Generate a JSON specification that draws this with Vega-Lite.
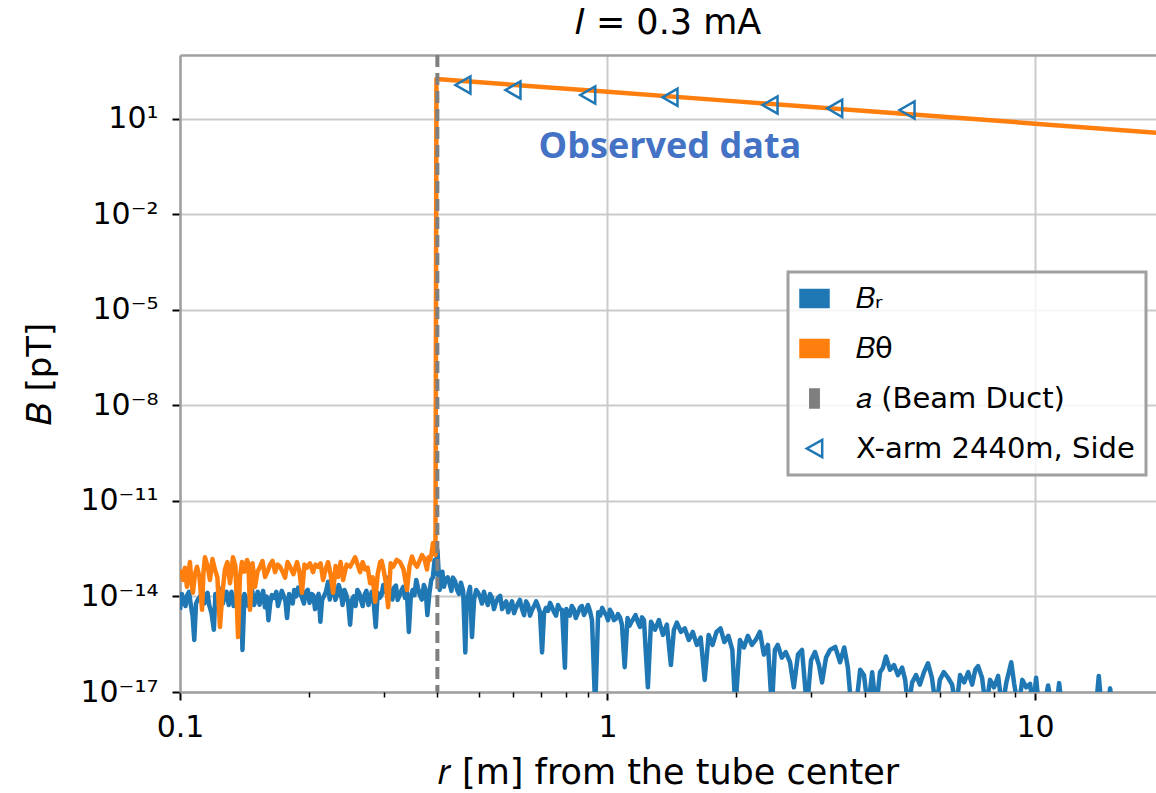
{
  "$schema": "https://vega.github.io/schema/vega-lite/v6.json",
  "width": 976,
  "height": 637,
  "autosize": {"type": "none"},
  "padding": {"left": 180, "top": 55, "right": 0, "bottom": 101},
  "background": "white",
  "config": {
    "view": {"stroke": null},
    "font": "DejaVu Sans",
    "axis": {"labelFont": "DejaVu Sans", "titleFont": "DejaVu Sans", "labelColor": "#000", "titleColor": "#000", "tickColor": "#000", "domainColor": "#a0a0a0", "gridColor": "#cbcbcb", "titleFontWeight": "normal", "labelFontSize": 30, "titleFontSize": 35}
  },
  "title": {"text": "𝐼 = 0.3 mA", "font": "DejaVu Sans", "fontSize": 35, "fontWeight": "normal", "color": "#000", "offset": 12, "anchor": "middle"},
  "datasets": {
    "br": [
      {"r": 0.100, "B": 3.8e-15}, {"r": 0.102, "B": 7.8e-15}, {"r": 0.104, "B": 1.1e-14}, {"r": 0.106, "B": 5.4e-15}, {"r": 0.108, "B": 4.3e-16}, {"r": 0.110, "B": 7.8e-15}, {"r": 0.113, "B": 1.6e-14}, {"r": 0.115, "B": 9e-15}, {"r": 0.117, "B": 5.4e-15}, {"r": 0.120, "B": 9e-16}, {"r": 0.122, "B": 7.8e-15}, {"r": 0.125, "B": 1.6e-14}, {"r": 0.127, "B": 1e-14}, {"r": 0.130, "B": 5.4e-15}, {"r": 0.132, "B": 1.4e-14}, {"r": 0.135, "B": 7.8e-15}, {"r": 0.138, "B": 3.2e-15}, {"r": 0.140, "B": 2.1e-16}, {"r": 0.143, "B": 7.8e-15}, {"r": 0.146, "B": 1.1e-14}, {"r": 0.149, "B": 5.4e-15}, {"r": 0.152, "B": 1.4e-14}, {"r": 0.155, "B": 9e-15}, {"r": 0.158, "B": 4.6e-15}, {"r": 0.161, "B": 1.8e-15}, {"r": 0.164, "B": 1.1e-14}, {"r": 0.168, "B": 1.4e-14}, {"r": 0.171, "B": 7.8e-15}, {"r": 0.175, "B": 1e-14}, {"r": 0.178, "B": 2.1e-15}, {"r": 0.182, "B": 7.8e-15}, {"r": 0.185, "B": 1.6e-14}, {"r": 0.189, "B": 1.9e-14}, {"r": 0.193, "B": 9e-15}, {"r": 0.197, "B": 1.4e-14}, {"r": 0.201, "B": 6.3e-15}, {"r": 0.205, "B": 1.1e-14}, {"r": 0.209, "B": 7.8e-15}, {"r": 0.213, "B": 1.6e-15}, {"r": 0.217, "B": 1e-14}, {"r": 0.222, "B": 2.9e-14}, {"r": 0.226, "B": 1.6e-14}, {"r": 0.231, "B": 7.8e-15}, {"r": 0.235, "B": 2.3e-14}, {"r": 0.240, "B": 5.4e-15}, {"r": 0.245, "B": 1.1e-14}, {"r": 0.250, "B": 1.3e-15}, {"r": 0.255, "B": 1e-14}, {"r": 0.260, "B": 1.6e-14}, {"r": 0.265, "B": 7.8e-15}, {"r": 0.270, "B": 1.1e-14}, {"r": 0.276, "B": 5.4e-15}, {"r": 0.281, "B": 1.4e-14}, {"r": 0.287, "B": 1.1e-15}, {"r": 0.293, "B": 9e-15}, {"r": 0.299, "B": 2.3e-14}, {"r": 0.305, "B": 3.9e-14}, {"r": 0.311, "B": 1.4e-14}, {"r": 0.317, "B": 1.9e-14}, {"r": 0.323, "B": 7.8e-15}, {"r": 0.330, "B": 1.6e-14}, {"r": 0.336, "B": 9e-15}, {"r": 0.343, "B": 7.7e-16}, {"r": 0.350, "B": 1.6e-14}, {"r": 0.357, "B": 3.3e-14}, {"r": 0.364, "B": 1.1e-14}, {"r": 0.372, "B": 2.3e-14}, {"r": 0.379, "B": 2.6e-15}, {"r": 0.387, "B": 3.3e-14}, {"r": 0.394, "B": 1.4e-13}, {"r": 0.400, "B": 2.9e-13},
      {"r": 0.101, "B": 1.2e-14}, {"r": 0.103, "B": 5e-15}, {"r": 0.105, "B": 1.4e-14}, {"r": 0.107, "B": 2.5e-15}, {"r": 0.109, "B": 6e-15}, {"r": 0.1115, "B": 1e-14}, {"r": 0.114, "B": 6e-15}, {"r": 0.116, "B": 1.3e-14}, {"r": 0.1185, "B": 3e-15}, {"r": 0.121, "B": 1.2e-14}, {"r": 0.1235, "B": 1.8e-14}, {"r": 0.126, "B": 6e-15}, {"r": 0.1285, "B": 1.4e-14}, {"r": 0.131, "B": 9e-15}, {"r": 0.1335, "B": 5e-15}, {"r": 0.1365, "B": 1.5e-14}, {"r": 0.139, "B": 1e-14}, {"r": 0.1415, "B": 1.2e-14}, {"r": 0.1445, "B": 5e-15}, {"r": 0.1475, "B": 1.6e-14}, {"r": 0.1505, "B": 8e-15}, {"r": 0.1535, "B": 5.5e-15}, {"r": 0.1565, "B": 1.5e-14}, {"r": 0.1595, "B": 1e-14}, {"r": 0.1625, "B": 6e-15}, {"r": 0.166, "B": 9e-15}, {"r": 0.1695, "B": 5e-15}, {"r": 0.173, "B": 1.5e-14}, {"r": 0.1765, "B": 7e-15}, {"r": 0.180, "B": 1.2e-14}, {"r": 0.1835, "B": 6e-15}, {"r": 0.187, "B": 1e-14}, {"r": 0.191, "B": 1.3e-14}, {"r": 0.195, "B": 6e-15}, {"r": 0.199, "B": 1.6e-14}, {"r": 0.203, "B": 1.2e-14}, {"r": 0.207, "B": 4e-15}, {"r": 0.211, "B": 1.2e-14}, {"r": 0.215, "B": 8e-15}, {"r": 0.2195, "B": 1.4e-14}, {"r": 0.224, "B": 8e-15}, {"r": 0.2285, "B": 2e-14}, {"r": 0.233, "B": 1.1e-14}, {"r": 0.2375, "B": 1.5e-14}, {"r": 0.2425, "B": 1.6e-14}, {"r": 0.2475, "B": 6e-15}, {"r": 0.2525, "B": 8e-15}, {"r": 0.2575, "B": 5e-15}, {"r": 0.2625, "B": 1.3e-14}, {"r": 0.2675, "B": 5e-15}, {"r": 0.273, "B": 1.5e-14}, {"r": 0.2785, "B": 9e-15}, {"r": 0.284, "B": 6e-15}, {"r": 0.290, "B": 1.3e-14}, {"r": 0.296, "B": 1.1e-14}, {"r": 0.302, "B": 1.4e-14}, {"r": 0.308, "B": 2e-14}, {"r": 0.314, "B": 8e-15}, {"r": 0.320, "B": 2.2e-14}, {"r": 0.3265, "B": 1.1e-14}, {"r": 0.333, "B": 2e-14}, {"r": 0.3395, "B": 1.4e-14}, {"r": 0.3465, "B": 9e-15}, {"r": 0.3535, "B": 1.1e-14}, {"r": 0.3605, "B": 1.8e-14}, {"r": 0.368, "B": 8e-15}, {"r": 0.3755, "B": 1.6e-14}, {"r": 0.383, "B": 1.2e-14}, {"r": 0.3905, "B": 4e-14}, {"r": 0.397, "B": 5e-14},
      {"r": 0.405, "B": 1.6e-14}, {"r": 0.411, "B": 6e-14}, {"r": 0.418, "B": 3.3e-14}, {"r": 0.428, "B": 2.3e-14}, {"r": 0.435, "B": 3.9e-14}, {"r": 0.445, "B": 1.6e-14}, {"r": 0.454, "B": 2.7e-14}, {"r": 0.465, "B": 1.75e-16}, {"r": 0.472, "B": 1.1e-14}, {"r": 0.482, "B": 5.3e-16}, {"r": 0.493, "B": 1.6e-14}, {"r": 0.503, "B": 1e-14}, {"r": 0.514, "B": 1.4e-14}, {"r": 0.525, "B": 5.4e-15}, {"r": 0.537, "B": 9e-15}, {"r": 0.548, "B": 6.3e-15}, {"r": 0.561, "B": 1.05e-14}, {"r": 0.573, "B": 5.4e-15}, {"r": 0.586, "B": 3.2e-15}, {"r": 0.598, "B": 7e-15}, {"r": 0.611, "B": 4.4e-15}, {"r": 0.624, "B": 7.8e-15}, {"r": 0.638, "B": 2.6e-15}, {"r": 0.652, "B": 5.4e-15}, {"r": 0.666, "B": 3.8e-15}, {"r": 0.681, "B": 7e-15}, {"r": 0.695, "B": 3.2e-15}, {"r": 0.703, "B": 1.75e-16}, {"r": 0.718, "B": 4.4e-15}, {"r": 0.734, "B": 6.3e-15}, {"r": 0.750, "B": 3.2e-15}, {"r": 0.766, "B": 5.4e-15}, {"r": 0.783, "B": 3.8e-15}, {"r": 0.795, "B": 5.8e-17}, {"r": 0.808, "B": 3.2e-15}, {"r": 0.825, "B": 5e-15}, {"r": 0.843, "B": 2.1e-15}, {"r": 0.862, "B": 4.4e-15}, {"r": 0.881, "B": 2.6e-15}, {"r": 0.900, "B": 5.4e-15}, {"r": 0.920, "B": 1.8e-15}, {"r": 0.936, "B": 3e-18}, {"r": 0.951, "B": 3.2e-15}, {"r": 0.972, "B": 4.4e-15}, {"r": 0.993, "B": 2.6e-15}, {"r": 1.013, "B": 3.8e-15}, {"r": 1.035, "B": 1.8e-15}, {"r": 1.058, "B": 2.8e-15}, {"r": 1.081, "B": 1.3e-15}, {"r": 1.097, "B": 6e-17}, {"r": 1.114, "B": 2.1e-15}, {"r": 1.138, "B": 1.6e-15}, {"r": 1.163, "B": 2.6e-15}, {"r": 1.191, "B": 1.1e-15}, {"r": 1.217, "B": 1.8e-15}, {"r": 1.243, "B": 1.4e-17}, {"r": 1.264, "B": 1.6e-15}, {"r": 1.292, "B": 9e-16}, {"r": 1.319, "B": 1.8e-15}, {"r": 1.348, "B": 6.2e-16}, {"r": 1.377, "B": 1.3e-15}, {"r": 1.407, "B": 7e-17}, {"r": 1.430, "B": 9e-16}, {"r": 1.453, "B": 1.5e-15}, {"r": 1.485, "B": 7.7e-16}, {"r": 1.516, "B": 1e-15}, {"r": 1.550, "B": 4.3e-16}, {"r": 1.583, "B": 7.7e-16}, {"r": 1.618, "B": 3e-16}, {"r": 1.652, "B": 5.1e-16}, {"r": 1.688, "B": 2.4e-17}, {"r": 1.724, "B": 6.2e-16}, {"r": 1.761, "B": 3e-16}, {"r": 1.799, "B": 7.7e-16}, {"r": 1.838, "B": 1e-15}, {"r": 1.877, "B": 3.7e-16}, {"r": 1.918, "B": 5.8e-16}, {"r": 1.959, "B": 2.1e-16}, {"r": 1.991, "B": 3e-18}, {"r": 2.041, "B": 4.3e-16}, {"r": 2.085, "B": 2.5e-16}, {"r": 2.130, "B": 5.8e-16}, {"r": 2.176, "B": 3e-16}, {"r": 2.222, "B": 4.3e-16}, {"r": 2.273, "B": 7.7e-16}, {"r": 2.322, "B": 1.5e-16}, {"r": 2.373, "B": 3e-16}, {"r": 2.424, "B": 3e-18}, {"r": 2.463, "B": 2.1e-16}, {"r": 2.502, "B": 3e-16}, {"r": 2.557, "B": 1.2e-16}, {"r": 2.612, "B": 1.8e-16}, {"r": 2.673, "B": 8.6e-17}, {"r": 2.728, "B": 1.4e-17}, {"r": 2.790, "B": 1.5e-16}, {"r": 2.851, "B": 2.1e-16}, {"r": 2.929, "B": 3e-18}, {"r": 2.993, "B": 1e-16}, {"r": 3.058, "B": 1.8e-16}, {"r": 3.124, "B": 7e-17}, {"r": 3.176, "B": 2e-17}, {"r": 3.245, "B": 1.2e-16}, {"r": 3.316, "B": 2.1e-16}, {"r": 3.41, "B": 2.6e-16}, {"r": 3.50, "B": 8.6e-17}, {"r": 3.58, "B": 2.5e-16}, {"r": 3.65, "B": 5.8e-17}, {"r": 3.72, "B": 3e-18}, {"r": 3.81, "B": 3e-18}, {"r": 3.90, "B": 5e-17}, {"r": 3.98, "B": 3.4e-17}, {"r": 4.07, "B": 3e-18}, {"r": 4.16, "B": 4.2e-17}, {"r": 4.25, "B": 3e-18}, {"r": 4.34, "B": 4.2e-17}, {"r": 4.41, "B": 5.8e-17}, {"r": 4.48, "B": 1.3e-16}, {"r": 4.58, "B": 5e-17}, {"r": 4.68, "B": 7e-17}, {"r": 4.78, "B": 3.4e-17}, {"r": 4.89, "B": 5.8e-17}, {"r": 4.97, "B": 2.4e-17}, {"r": 5.05, "B": 3e-18}, {"r": 5.16, "B": 2e-17}, {"r": 5.27, "B": 3.4e-17}, {"r": 5.38, "B": 1.7e-17}, {"r": 5.50, "B": 4.2e-17}, {"r": 5.62, "B": 8e-17}, {"r": 5.74, "B": 2.8e-17}, {"r": 5.87, "B": 3e-18}, {"r": 5.99, "B": 2.4e-17}, {"r": 6.12, "B": 4.2e-17}, {"r": 6.26, "B": 2.8e-17}, {"r": 6.40, "B": 1.7e-17}, {"r": 6.54, "B": 3e-18}, {"r": 6.68, "B": 3.4e-17}, {"r": 6.83, "B": 2e-17}, {"r": 6.98, "B": 4.2e-17}, {"r": 7.13, "B": 1.7e-17}, {"r": 7.25, "B": 5e-17}, {"r": 7.36, "B": 6.5e-17}, {"r": 7.52, "B": 2.8e-17}, {"r": 7.68, "B": 3e-18}, {"r": 7.85, "B": 2.4e-17}, {"r": 8.02, "B": 1.4e-17}, {"r": 8.20, "B": 3.2e-17}, {"r": 8.38, "B": 3e-18}, {"r": 8.57, "B": 2e-17}, {"r": 8.80, "B": 8.6e-17}, {"r": 8.94, "B": 1.8e-17}, {"r": 9.14, "B": 3e-18}, {"r": 9.34, "B": 2.4e-17}, {"r": 9.54, "B": 1.4e-17}, {"r": 9.74, "B": 1.8e-17}, {"r": 9.90, "B": 3e-18}, {"r": 10.06, "B": 2.8e-17}, {"r": 10.22, "B": 3e-18}, {"r": 10.49, "B": 3e-18}, {"r": 10.73, "B": 1.6e-17}, {"r": 10.97, "B": 3e-18}, {"r": 11.21, "B": 3e-18}, {"r": 11.39, "B": 1.9e-17}, {"r": 11.57, "B": 3e-18}, {"r": 12.08, "B": 3e-18}, {"r": 13.46, "B": 3e-18}, {"r": 13.88, "B": 3e-18}, {"r": 14.10, "B": 3.2e-17}, {"r": 14.32, "B": 3e-18}, {"r": 14.78, "B": 3e-18}, {"r": 14.99, "B": 1.3e-17}, {"r": 15.15, "B": 3e-18},
      {"r": 0.408, "B": 3e-14}, {"r": 0.4145, "B": 2e-14}, {"r": 0.423, "B": 4e-14}, {"r": 0.4315, "B": 1.5e-14}, {"r": 0.440, "B": 3e-14}, {"r": 0.4495, "B": 1.2e-14}, {"r": 0.4595, "B": 1.5e-14}, {"r": 0.4685, "B": 8e-15}, {"r": 0.477, "B": 2e-14}, {"r": 0.4875, "B": 8e-15}, {"r": 0.498, "B": 1.3e-14}, {"r": 0.5085, "B": 6e-15}, {"r": 0.5195, "B": 8e-15}, {"r": 0.531, "B": 1.2e-14}, {"r": 0.5425, "B": 4e-15}, {"r": 0.5545, "B": 9e-15}, {"r": 0.567, "B": 4e-15}, {"r": 0.5795, "B": 7e-15}, {"r": 0.592, "B": 5e-15}, {"r": 0.6045, "B": 3e-15}, {"r": 0.6175, "B": 6e-15}, {"r": 0.631, "B": 4e-15}, {"r": 0.645, "B": 7e-15}, {"r": 0.659, "B": 2.5e-15}, {"r": 0.6735, "B": 5e-15}, {"r": 0.688, "B": 5e-15}, {"r": 0.7105, "B": 3e-15}, {"r": 0.726, "B": 3.5e-15}, {"r": 0.742, "B": 4.5e-15}, {"r": 0.758, "B": 2.5e-15}, {"r": 0.7745, "B": 4e-15}, {"r": 0.8015, "B": 4e-15}, {"r": 0.8165, "B": 2.5e-15}, {"r": 0.834, "B": 4e-15}, {"r": 0.8525, "B": 3e-15}, {"r": 0.8715, "B": 5e-15}, {"r": 0.8905, "B": 3.5e-15}, {"r": 0.910, "B": 3.5e-15}, {"r": 0.9615, "B": 2.5e-15}, {"r": 0.9825, "B": 3.2e-15}, {"r": 1.003, "B": 1.8e-15}, {"r": 1.024, "B": 3e-15}, {"r": 1.0465, "B": 2e-15}, {"r": 1.0695, "B": 2.2e-15}, {"r": 1.126, "B": 1.2e-15}, {"r": 1.1505, "B": 2e-15}, {"r": 1.177, "B": 1.6e-15}, {"r": 1.204, "B": 2.2e-15}
    ],
    "bt": [
      {"r": 0.1000, "B": 4.8e-14}, {"r": 0.1016, "B": 3.3e-14}, {"r": 0.1038, "B": 2e-14}, {"r": 0.1055, "B": 1.2e-13}, {"r": 0.1072, "B": 1.3e-14}, {"r": 0.1096, "B": 8.6e-14}, {"r": 0.1126, "B": 3.8e-15}, {"r": 0.1144, "B": 1.7e-13}, {"r": 0.1175, "B": 3.3e-14}, {"r": 0.1207, "B": 7e-14}, {"r": 0.1240, "B": 1.1e-15}, {"r": 0.1274, "B": 7e-14}, {"r": 0.1309, "B": 2.6e-14}, {"r": 0.1330, "B": 1.7e-13}, {"r": 0.1367, "B": 5.3e-16}, {"r": 0.1396, "B": 1.2e-13}, {"r": 0.1435, "B": 1.4e-13}, {"r": 0.1458, "B": 3.8e-15}, {"r": 0.1498, "B": 2e-14}, {"r": 0.1539, "B": 8.6e-14}, {"r": 0.1581, "B": 4.1e-14}, {"r": 0.1624, "B": 1e-13}, {"r": 0.1669, "B": 5.8e-14}, {"r": 0.1714, "B": 8.6e-14}, {"r": 0.1761, "B": 3.9e-14}, {"r": 0.1809, "B": 8.6e-14}, {"r": 0.1878, "B": 1.2e-13}, {"r": 0.1929, "B": 1.3e-14}, {"r": 0.1982, "B": 8e-14}, {"r": 0.2047, "B": 5.8e-14}, {"r": 0.2103, "B": 8.6e-14}, {"r": 0.2161, "B": 3.3e-14}, {"r": 0.2220, "B": 1.2e-13}, {"r": 0.2281, "B": 1.3e-14}, {"r": 0.2343, "B": 4.1e-14}, {"r": 0.2407, "B": 3.3e-14}, {"r": 0.2500, "B": 8.6e-14}, {"r": 0.2568, "B": 1.7e-13}, {"r": 0.2638, "B": 5.8e-14}, {"r": 0.2711, "B": 7e-14}, {"r": 0.2785, "B": 2.6e-14}, {"r": 0.2861, "B": 6.8e-15}, {"r": 0.2939, "B": 1.2e-13}, {"r": 0.2987, "B": 8e-14}, {"r": 0.3068, "B": 4.6e-15}, {"r": 0.3152, "B": 8.6e-14}, {"r": 0.3272, "B": 1.2e-13}, {"r": 0.3396, "B": 1.6e-14}, {"r": 0.3488, "B": 1.8e-13}, {"r": 0.3584, "B": 8.6e-14}, {"r": 0.3682, "B": 2e-13}, {"r": 0.3782, "B": 7e-14}, {"r": 0.3844, "B": 1.4e-13}, {"r": 0.3907, "B": 4.8e-13}, {"r": 0.3960, "B": 2e-13},
      {"r": 0.1008, "B": 6e-14}, {"r": 0.1027, "B": 8e-14}, {"r": 0.1046, "B": 5e-14}, {"r": 0.1063, "B": 3e-14}, {"r": 0.1084, "B": 5e-14}, {"r": 0.1111, "B": 4e-14}, {"r": 0.1135, "B": 6e-14}, {"r": 0.1160, "B": 9e-14}, {"r": 0.1191, "B": 1.5e-13}, {"r": 0.1223, "B": 4e-14}, {"r": 0.1257, "B": 1.3e-14}, {"r": 0.1291, "B": 1.2e-13}, {"r": 0.1320, "B": 6e-14}, {"r": 0.1348, "B": 9e-14}, {"r": 0.1381, "B": 4e-14}, {"r": 0.1415, "B": 6e-14}, {"r": 0.1446, "B": 1e-13}, {"r": 0.1478, "B": 1.1e-13}, {"r": 0.1518, "B": 6e-14}, {"r": 0.1560, "B": 1.3e-13}, {"r": 0.1602, "B": 6e-14}, {"r": 0.1646, "B": 1.3e-13}, {"r": 0.1691, "B": 1e-13}, {"r": 0.1737, "B": 6e-14}, {"r": 0.1785, "B": 1.2e-13}, {"r": 0.1843, "B": 5e-14}, {"r": 0.1903, "B": 6e-14}, {"r": 0.1955, "B": 1e-13}, {"r": 0.2014, "B": 1.1e-13}, {"r": 0.2075, "B": 1e-13}, {"r": 0.2132, "B": 1.1e-13}, {"r": 0.2190, "B": 7e-14}, {"r": 0.2250, "B": 5e-14}, {"r": 0.2312, "B": 9e-14}, {"r": 0.2375, "B": 1.2e-13}, {"r": 0.2453, "B": 1e-13}, {"r": 0.2534, "B": 1.2e-13}, {"r": 0.2603, "B": 1e-13}, {"r": 0.2674, "B": 1.2e-13}, {"r": 0.2748, "B": 8e-14}, {"r": 0.2823, "B": 4e-14}, {"r": 0.2900, "B": 5e-14}, {"r": 0.2963, "B": 1.3e-13}, {"r": 0.3027, "B": 3e-14}, {"r": 0.3110, "B": 1.1e-13}, {"r": 0.3212, "B": 1.4e-13}, {"r": 0.3334, "B": 7e-14}, {"r": 0.3442, "B": 9e-14}, {"r": 0.3536, "B": 1.1e-13}, {"r": 0.3633, "B": 1.3e-13}, {"r": 0.3732, "B": 1.5e-13}, {"r": 0.3813, "B": 1.7e-13}, {"r": 0.3876, "B": 2.2e-13},
      {"r": 0.3980, "B": 175}, {"r": 1, "B": 70}, {"r": 2, "B": 35}, {"r": 5, "B": 14}, {"r": 10, "B": 7}, {"r": 20, "B": 3.5}
    ],
    "duct": [{"r": 0.4, "B": 1}],
    "xarm": [
      {"r": 0.459, "B": 114}, {"r": 0.601, "B": 79.6}, {"r": 0.899, "B": 55.5}, {"r": 1.40, "B": 47}, {"r": 2.40, "B": 26.9}, {"r": 3.40, "B": 21.2}, {"r": 5.02, "B": 18.8}
    ],
    "annot": [{"r": 1.40, "B": 1.3, "label": "Observed data"}]
  },
  "layer": [
    {
      "data": {"name": "br"},
      "mark": {"type": "line", "strokeWidth": 4.5, "strokeJoin": "round", "clip": true},
      "encoding": {
        "x": {"field": "r", "type": "quantitative",
          "scale": {"type": "log", "domain": [0.1, 19.19], "nice": false},
          "axis": {"orient": "bottom", "values": [0.1, 1, 10], "labelExpr": "datum.value < 0.5 ? '0.1' : datum.value < 5 ? '1' : '10'",
            "title": "𝑟 [m] from the tube center", "titleFontSize": 35, "titlePadding": 13,
            "labelFontSize": 30, "labelPadding": 12, "labelFlush": false, "labelOverlap": false,
            "tickSize": 8, "tickWidth": 2, "domainWidth": 2.5, "grid": true, "gridWidth": 2}},
        "y": {"field": "B", "type": "quantitative",
          "scale": {"type": "log", "domain": [1e-17, 1000], "nice": false},
          "axis": {"values": [1e-17, 1e-14, 1e-11, 1e-8, 1e-5, 0.01, 10],
            "labelExpr": "datum.value < 1e-16 ? '10⁻¹⁷' : datum.value < 1e-13 ? '10⁻¹⁴' : datum.value < 1e-10 ? '10⁻¹¹' : datum.value < 1e-7 ? '10⁻⁸' : datum.value < 1e-4 ? '10⁻⁵' : datum.value < 0.1 ? '10⁻²' : '10¹'",
            "title": "𝐵 [pT]", "titleFontSize": 34, "titlePadding": 22,
            "labelFontSize": 30, "labelPadding": 14, "labelOverlap": false, "labelFlush": false,
            "tickSize": 8, "tickWidth": 2, "domainWidth": 2.5, "grid": true, "gridWidth": 2}},
        "color": {"datum": "𝐵ᵣ", "type": "nominal",
          "scale": {"domain": ["𝐵ᵣ", "𝐵θ", "𝑎 (Beam Duct)", "X-arm 2440m, Side"], "range": ["#1f77b4", "#ff7f0e", "#7f7f7f", "#1f77b4"]},
          "legend": {"title": null, "orient": "none", "legendX": 608, "legendY": 217, "direction": "vertical",
            "fillColor": "rgba(255,255,255,0.8)", "strokeColor": "#a0a0a0", "padding": 11,
            "symbolSize": 784, "symbolStrokeWidth": 2.5, "labelFont": "DejaVu Sans", "labelFontSize": 29, "labelColor": "#000",
            "labelOffset": 26, "labelLimit": 0, "rowPadding": 19,
            "encode": {
              "legend": {"update": {"strokeWidth": {"value": 3}}},
              "symbols": {"update": {
                "shape": {"signal": "datum.index === 3 ? 'M-0.55,0L0.55,-0.62L0.55,0.62Z' : datum.index === 2 ? 'M-0.3,-0.65L0.3,-0.65L0.3,0.65L-0.3,0.65Z' : 'M-1,-0.6L1,-0.6L1,0.6L-1,0.6Z'"},
                "fill": {"signal": "datum.index === 3 ? 'transparent' : datum.index === 2 ? '#7f7f7f' : datum.index === 0 ? '#1f77b4' : '#ff7f0e'"},
                "stroke": {"signal": "datum.index === 3 ? '#1f77b4' : 'transparent'"},
                "strokeWidth": {"value": 2.5},
                "strokeDash": {"value": []},
                "size": {"value": 784},
                "opacity": {"value": 1}
              }}
            }}
        }
      }
    },
    {
      "data": {"name": "bt"},
      "mark": {"type": "line", "strokeWidth": 4.5, "strokeJoin": "round", "clip": true},
      "encoding": {
        "x": {"field": "r", "type": "quantitative",
          "axis": {"orient": "bottom", "values": [0.2, 0.3, 0.4, 0.5, 0.6, 0.7, 0.8, 0.9, 2, 3, 4, 5, 6, 7, 8, 9], "labels": false, "domain": false, "grid": false, "tickSize": 5, "tickWidth": 1.5, "title": null}},
        "y": {"field": "B", "type": "quantitative"},
        "color": {"datum": "𝐵θ", "type": "nominal"}
      }
    },
    {
      "data": {"name": "duct"},
      "mark": {"type": "rule", "strokeWidth": 4, "strokeDash": [12, 6]},
      "encoding": {
        "x": {"field": "r", "type": "quantitative",
          "axis": {"orient": "top", "labels": false, "ticks": false, "grid": false, "domain": true, "domainWidth": 2.5, "title": null}},
        "color": {"datum": "𝑎 (Beam Duct)", "type": "nominal"}
      }
    },
    {
      "data": {"name": "xarm"},
      "mark": {"type": "point", "shape": "triangle-left", "filled": false, "size": 300, "strokeWidth": 2.5, "opacity": 1},
      "encoding": {
        "x": {"field": "r", "type": "quantitative", "axis": null},
        "y": {"field": "B", "type": "quantitative"},
        "color": {"datum": "X-arm 2440m, Side", "type": "nominal"}
      }
    },
    {
      "data": {"name": "annot"},
      "mark": {"type": "text", "font": "Open Sans", "fontWeight": "bold", "fontSize": 36, "color": "#4472C4", "align": "center", "baseline": "middle"},
      "encoding": {
        "x": {"field": "r", "type": "quantitative", "axis": null},
        "y": {"field": "B", "type": "quantitative"},
        "text": {"field": "label"}
      }
    }
  ],
  "resolve": {"axis": {"x": "independent"}}
}
